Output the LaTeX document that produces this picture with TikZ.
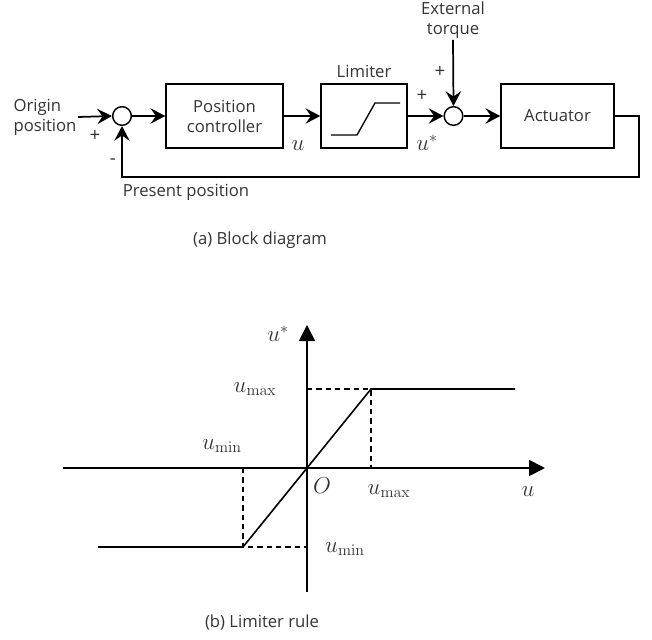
\documentclass[tikz,border=0pt]{standalone}
\usepackage[no-math]{fontspec}
\setmainfont{Open Sans}
\usetikzlibrary{arrows.meta,positioning,calc}
\definecolor{labelgray}{HTML}{333333}
\tikzset{
  blockbox/.style={rectangle, draw=black, line width=1.1pt, minimum height=48pt,
                   text=labelgray, align=center, font=\fontsize{12.5}{15}\selectfont},
  sumnode/.style={circle, draw=black, line width=1.1pt, minimum size=14pt, inner sep=0pt},
  sigarr/.style={-{Stealth[length=11pt,width=11.5pt,inset=4pt]}, line width=1.3pt},
  txtlabel/.style={text=labelgray, align=center, font=\fontsize{12.5}{15}\selectfont},
  signlabel/.style={text=labelgray, font=\fontsize{14}{14}\selectfont, inner sep=0pt},
  mathlabel/.style={text=labelgray, font=\fontsize{17}{18}\selectfont, inner sep=0pt},
  axisarr/.style={-{Triangle[length=12pt,width=12pt]}, line width=1.3pt},
  limline/.style={line width=1.2pt},
  guide/.style={dashed, dash pattern=on 4pt off 3pt, line width=1pt},
}
\begin{document}
\begin{tikzpicture}[x=0.75pt,y=0.75pt]
    \useasboundingbox (0,0) rectangle (652,-639);
    % (a) block diagram
    \node[txtlabel, align=left, anchor=west, inner sep=1pt] (orig) at (12,-117) {Origin\\position};
    \node[sumnode] (sum1) at (122,-116) {};
    \node[blockbox, minimum width=87.75pt] (pc)  at (224.5,-116) {Position\\controller};
    \node[blockbox, minimum width=64.5pt]  (lim) at (364,-116) {};
    \node[txtlabel, above=1pt of lim] (limtxt) {Limiter};
    \node[sumnode] (sum2) at (453.5,-116) {};
    \node[blockbox, minimum width=84.75pt] (act) at (557.5,-116) {Actuator};
    \node[txtlabel, inner sep=1pt] (ext) at (453,-20) {External\\torque};
    \coordinate (fb) at (639,-177);
    \draw[limline, line width=1pt] ($(lim.center)+(-33,-19)$) -- ++(26,0) -- ++(18,32) -- ++(25,0);
    \draw[sigarr] (orig.east) -- (sum1.west);
    \draw[sigarr] (sum1.east) -- (pc.west);
    \draw[sigarr] (pc.east) -- (lim.west);
    \draw[sigarr] (lim.east) -- (sum2.west);
    \draw[sigarr] (ext.south) -- (sum2.north);
    \draw[sigarr] (sum2.east) -- (act.west);
    \draw[sigarr] (act.east) -| (fb) -| (sum1.south);
    \node[signlabel] (p1) at (95,-136) {+};
    \node[signlabel] (m1) at (113,-162) {-};
    \node[signlabel] (p2) at (422,-96) {+};
    \node[signlabel] (p3) at (440,-72) {+};
    \node[mathlabel] (uout) at (298,-146) {$u$};
    \node[mathlabel] (ulim) at (427,-143) {$u^{*}$};
    \node[txtlabel] (pres) at (186,-192) {Present position};
    \node[txtlabel] (capa) at (260,-240) {(a) Block diagram};
    % (b) limiter rule
    \coordinate (xl) at (63,-468);
    \coordinate (xr) at (545,-468);
    \coordinate (yb) at (307,-592);
    \coordinate (yt) at (307,-325);
    \coordinate (kmax) at (371,-389);
    \coordinate (kmin) at (243,-547);
    \coordinate (satr) at (515,-389);
    \coordinate (satl) at (98,-547);
    \coordinate (fmax) at (371,-468);
    \coordinate (fmin) at (243,-468);
    \coordinate (lmax) at (307,-389);
    \coordinate (lmin) at (307,-547);
    \draw[axisarr] (xl) -- (xr);
    \draw[axisarr] (yb) -- (yt);
    \draw[limline] (satl) -- (kmin) -- (kmax) -- (satr);
    \draw[guide] (lmax) -- (kmax) -- (fmax);
    \draw[guide] (fmin) -- (kmin) -- (lmin);
    \node[mathlabel] (ustar) at (278,-334) {$u^{*}$};
    \node[mathlabel] (umaxl) at (255,-389) {$u_{\max}$};
    \node[mathlabel] (uminl) at (222,-446) {$u_{\min}$};
    \node[mathlabel] (orig0) at (322,-486) {$O$};
    \node[mathlabel] (umaxb) at (389,-491) {$u_{\max}$};
    \node[mathlabel] (uaxis) at (528,-492) {$u$};
    \node[mathlabel] (uminb) at (345,-549) {$u_{\min}$};
    \node[txtlabel] (capb) at (262,-622) {(b) Limiter rule};
\end{tikzpicture}
\end{document}
